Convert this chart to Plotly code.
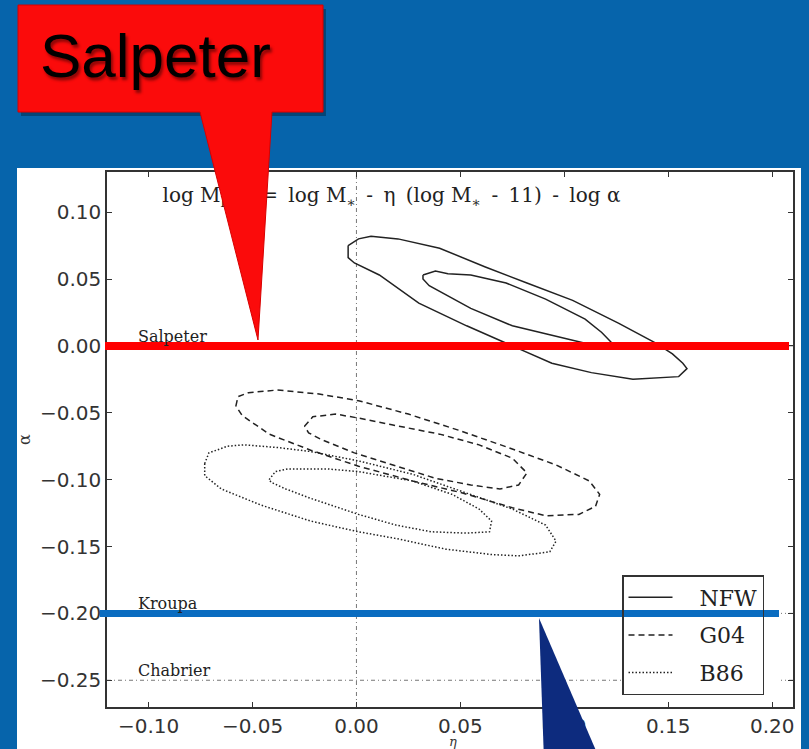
import plotly.graph_objects as go

# ---------------------------------------------------------------- data
eta_range = [-0.12, 0.21]
alpha_range = [-0.27, 0.13]

x_tickvals = [-0.10, -0.05, 0.00, 0.05, 0.10, 0.15, 0.20]
x_ticktext = ["\u22120.10", "\u22120.05", "0.00", "0.05", "0.10", "0.15", "0.20"]
y_tickvals = [0.10, 0.05, 0.00, -0.05, -0.10, -0.15, -0.20, -0.25]
y_ticktext = ["0.10", "0.05", "0.00", "\u22120.05", "\u22120.10", "\u22120.15", "\u22120.20", "\u22120.25"]

# confidence contours in the (eta, alpha) plane
nfw_outer_eta = [-0.004, 0.001, 0.007, 0.020, 0.040, 0.062, 0.082, 0.104, 0.126, 0.144, 0.152, 0.157,
                 0.159, 0.155, 0.133, 0.113, 0.094, 0.075, 0.053, 0.030, 0.011, -0.001, -0.004, -0.004]
nfw_outer_alpha = [0.075, 0.080, 0.082, 0.080, 0.073, 0.059, 0.047, 0.034, 0.017, 0.002, -0.006, -0.013,
                   -0.017, -0.023, -0.025, -0.020, -0.013, 0.000, 0.015, 0.032, 0.053, 0.062, 0.066, 0.075]
nfw_inner_eta = [0.032, 0.038, 0.044, 0.055, 0.072, 0.091, 0.110, 0.118, 0.123, 0.110, 0.094, 0.075,
                 0.055, 0.043, 0.035, 0.032, 0.032]
nfw_inner_alpha = [0.053, 0.056, 0.054, 0.053, 0.047, 0.035, 0.020, 0.010, 0.002, 0.002, 0.008, 0.015,
                   0.028, 0.038, 0.045, 0.050, 0.053]

g04_outer_eta = [-0.058, -0.057, -0.052, -0.038, -0.018, 0.001, 0.025, 0.049, 0.073, 0.096, 0.112, 0.117,
                 0.115, 0.107, 0.091, 0.075, 0.051, 0.027, 0.001, -0.022, -0.042, -0.055, -0.058]
g04_outer_alpha = [-0.045, -0.038, -0.035, -0.033, -0.036, -0.041, -0.051, -0.063, -0.076, -0.089, -0.101,
                   -0.111, -0.120, -0.126, -0.127, -0.121, -0.110, -0.101, -0.090, -0.078, -0.066, -0.052, -0.045]
g04_inner_eta = [-0.025, -0.021, -0.010, 0.001, 0.017, 0.040, 0.059, 0.075, 0.082, 0.078, 0.069, 0.055,
                 0.038, 0.019, -0.001, -0.017, -0.023, -0.025]
g04_inner_alpha = [-0.060, -0.053, -0.051, -0.054, -0.059, -0.066, -0.074, -0.084, -0.095, -0.104, -0.107,
                   -0.104, -0.099, -0.090, -0.080, -0.070, -0.065, -0.060]

b86_outer_eta = [-0.073, -0.071, -0.062, -0.054, -0.038, -0.022, 0.001, 0.027, 0.051, 0.075, 0.091, 0.096,
                 0.093, 0.078, 0.065, 0.043, 0.019, 0.001, -0.022, -0.046, -0.065, -0.073, -0.073]
b86_outer_alpha = [-0.088, -0.080, -0.075, -0.074, -0.076, -0.079, -0.086, -0.096, -0.109, -0.122, -0.134,
                   -0.146, -0.154, -0.157, -0.156, -0.152, -0.144, -0.139, -0.131, -0.119, -0.107, -0.097, -0.088]
b86_inner_eta = [-0.042, -0.039, -0.033, -0.014, 0.001, 0.027, 0.046, 0.059, 0.065, 0.064, 0.053, 0.036,
                 0.019, 0.001, -0.022, -0.034, -0.041, -0.042]
b86_inner_alpha = [-0.100, -0.094, -0.092, -0.092, -0.094, -0.101, -0.111, -0.122, -0.131, -0.139, -0.140,
                   -0.139, -0.134, -0.126, -0.114, -0.107, -0.102, -0.100]

model_names = ["NFW", "G04", "B86"]

imf_names = ["Salpeter", "Kroupa", "Chabrier"]
imf_alpha = [0.0, -0.20, -0.25]
label_eta = -0.106

formula = ("log M<sub>halo</sub>\u2009 = \u2009log M<sub>\u2217</sub>\u2009 - \u2009\u03b7\u2009 "
           "(log M<sub>\u2217</sub>\u2009 - \u200911) \u2009- \u2009log \u03b1")

# ---------------------------------------------------------------- layout geometry
W, H = 809, 749
ML, MR, MT, MB = 107, 16, 172, 42
PW, PH = W - ML - MR, H - MT - MB

BG_BLUE = "#0664ab"
LINE_BLUE = "#0a6cc0"
NAVY = "#0d2b7e"
RED = "#fb0b0b"
INK = "#222222"


def pxx(x):
    """page pixel x -> paper fraction"""
    return (x - ML) / PW


def pxy(y):
    """page pixel y (from top) -> paper fraction"""
    return (H - MB - y) / PH


def eta_at(x):
    return eta_range[0] + (x - ML) / PW * (eta_range[1] - eta_range[0])


def alpha_at(y):
    return alpha_range[0] + (H - MB - y) / PH * (alpha_range[1] - alpha_range[0])


def poly(points):
    return "M " + " L ".join(f"{pxx(x):.4f},{pxy(y):.4f}" for x, y in points) + " Z"


fig = go.Figure()

models = [
    ("solid", (nfw_outer_eta, nfw_outer_alpha), (nfw_inner_eta, nfw_inner_alpha)),
    ("6px,4px", (g04_outer_eta, g04_outer_alpha), (g04_inner_eta, g04_inner_alpha)),
    ("1.5px,2px", (b86_outer_eta, b86_outer_alpha), (b86_inner_eta, b86_inner_alpha)),
]
for name, (dash, outer, inner) in zip(model_names, models):
    for k, (xs, ys) in enumerate((outer, inner)):
        fig.add_trace(go.Scatter(
            x=xs, y=ys, mode="lines", name="\u2003" + name, legendgroup=name,
            showlegend=(k == 0),
            line=dict(color=INK, width=1.5, dash=dash),
            hoverinfo="skip",
        ))

# model equation along the top of the panel
fig.add_trace(go.Scatter(
    x=[-0.0933], y=[0.111], mode="text", text=[formula], textposition="middle right",
    textfont=dict(family="DejaVu Serif", size=20, color="#222"),
    showlegend=False, hoverinfo="skip", cliponaxis=False,
))

shapes = []
# reference IMF lines and eta = 0
for a in imf_alpha:
    shapes.append(dict(type="line", xref="x", yref="y", x0=eta_range[0], x1=eta_range[1], y0=a, y1=a,
                       line=dict(color="#777", width=1, dash="4px,3px,1px,3px"), layer="below"))
shapes.append(dict(type="line", xref="x", yref="y", x0=0, x1=0, y0=alpha_range[0], y1=alpha_range[1],
                   line=dict(color="#777", width=1, dash="4px,3px,1px,3px"), layer="below"))
# white backing for the legend box
shapes.append(dict(type="rect", xref="x", yref="y", x0=eta_at(622), x1=eta_at(781),
                   y0=alpha_at(693), y1=alpha_at(575), fillcolor="white", line=dict(width=0), layer="below"))
# white slide panel
shapes.append(dict(type="rect", xref="paper", yref="paper", x0=pxx(17), x1=pxx(801), y0=pxy(770), y1=pxy(168),
                   fillcolor="white", line=dict(width=0), layer="below"))

# highlighted IMF lines
shapes.append(dict(type="line", xref="paper", yref="y", x0=pxx(105), x1=pxx(789), y0=imf_alpha[0], y1=imf_alpha[0],
                   line=dict(color="#ff0000", width=8), layer="above"))
shapes.append(dict(type="line", xref="paper", yref="y", x0=pxx(100), x1=pxx(779), y0=imf_alpha[1], y1=imf_alpha[1],
                   line=dict(color=LINE_BLUE, width=7), layer="above"))

# red callout
callout = [(18, 5), (323, 5), (323, 112), (272, 112), (258, 340), (200, 112), (18, 112)]
shapes.append(dict(type="path", xref="paper", yref="paper",
                   path=poly([(x + 3, y + 4) for x, y in callout[:3]] + [(21, 116)]),
                   fillcolor="rgba(0,0,0,0.30)", line=dict(width=0), layer="above"))
shapes.append(dict(type="path", xref="paper", yref="paper", path=poly(callout),
                   fillcolor=RED, line=dict(color="#d80000", width=1), layer="above"))
# navy pointer
shapes.append(dict(type="path", xref="paper", yref="paper",
                   path=poly([(539, 618), (544, 760), (600, 760)]),
                   fillcolor=NAVY, line=dict(width=0), layer="above"))

annotations = [
    dict(text="Salpeter", xref="paper", yref="paper", x=pxx(38), y=pxy(55), xanchor="left", yanchor="middle",
         showarrow=False, font=dict(family="Liberation Sans", size=62, color="black",
                                    shadow="2px 3px 3px rgba(0,0,0,0.45)")),
    dict(text="\u03b1", xref="paper", yref="paper", x=pxx(24), y=pxy(440), xanchor="center", yanchor="middle",
         textangle=-90, showarrow=False, font=dict(family="DejaVu Serif", size=16, color="#333")),
    dict(text="<i>\u03b7</i>", xref="paper", yref="paper", x=pxx(453), y=pxy(741), xanchor="center",
         yanchor="middle", showarrow=False, font=dict(family="DejaVu Serif", size=13, color="#333")),
]
for name, a in zip(imf_names, imf_alpha):
    annotations.append(dict(text=name, x=label_eta, y=a, xref="x", yref="y", xanchor="left", yanchor="bottom",
                            yshift=-2, showarrow=False,
                            font=dict(family="DejaVu Serif", size=16, color="#222")))

axis_common = dict(showline=True, linecolor="#333", linewidth=1.6, mirror="allticks", ticks="inside",
                   ticklen=5, tickwidth=1, tickcolor="#333", showgrid=False, zeroline=False,
                   tickfont=dict(family="DejaVu Sans", size=20, color="#333"))

fig.update_layout(
    width=W, height=H,
    margin=dict(l=ML, r=MR, t=MT, b=MB),
    paper_bgcolor=BG_BLUE, plot_bgcolor="white",
    xaxis=dict(range=eta_range, tickvals=x_tickvals, ticktext=x_ticktext, **axis_common),
    yaxis=dict(range=alpha_range, tickvals=y_tickvals, ticktext=y_ticktext, **axis_common),
    shapes=shapes, annotations=annotations,
    legend=dict(x=pxx(622), y=pxy(575), xanchor="left", yanchor="top",
                bgcolor="rgba(0,0,0,0)", bordercolor="#333", borderwidth=1.5,
                font=dict(family="DejaVu Serif", size=22, color="#222"),
                tracegroupgap=6, itemwidth=44),
    showlegend=True,
)

fig.write_html("out.html")
